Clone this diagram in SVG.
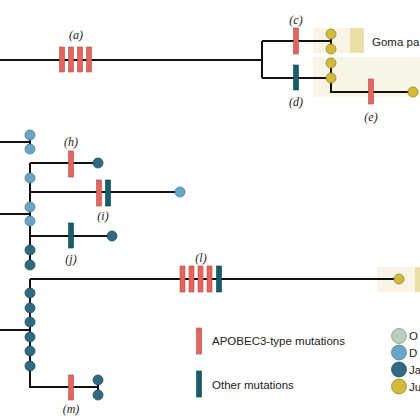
<svg xmlns="http://www.w3.org/2000/svg" width="420" height="420" viewBox="0 0 420 420">
<style>
.ln{stroke:#111;stroke-width:2;fill:none}
.apo{fill:#e8635b;stroke:#a9524d;stroke-width:0.6}
.oth{fill:#165e6c;stroke:#0e3f48;stroke-width:0.6}
.lb{font-family:"Liberation Serif",serif;font-style:italic;font-size:12px;fill:#222;text-anchor:middle}
.tx{font-family:"Liberation Sans",Arial,sans-serif;font-size:11.5px;fill:#222}
.lt{fill:#6aa5c3;stroke:#4a7f98;stroke-width:0.8}
.dk{fill:#2f6982;stroke:#204d60;stroke-width:0.8}
.yl{fill:#d3ba3b;stroke:#97852c;stroke-width:0.8}
.gr{fill:#b6cfbf;stroke:#7f9a8a;stroke-width:0.8}
.bg{fill:#f8f5e7}
.bd{fill:#e9e0a9}
</style>
<g id="backgrounds">
<rect class="bg" x="313" y="28" width="37" height="25"/>
<rect class="bd" x="350" y="28" width="14" height="25"/>
<rect class="bg" x="313" y="57" width="107" height="40"/>
<rect class="bg" x="377" y="267" width="38" height="25"/>
<rect class="bd" x="415" y="267" width="5" height="25"/>
</g>
<g id="connectors">
<path class="ln" d="M0 60H262M262 41V78M262 41H331M262 78H331M331 34V49M331 63V92H413"/>
<path class="ln" d="M0 142H30M30 135V149"/>
<path class="ln" d="M30 163V265M30 163H98M30 192H180M0 214H30M30 236H112"/>
<path class="ln" d="M30 279V387H98M30 279H399M0 330H30M98 380V395"/>
</g>
<g id="mutations">
<g id="mut-a"><rect class="apo" x="59.5" y="47" width="5" height="25"/><rect class="apo" x="68.5" y="47" width="5" height="25"/><rect class="apo" x="77.5" y="47" width="5" height="25"/><rect class="apo" x="86.5" y="47" width="5" height="25"/><text class="lb" x="76" y="39">(a)</text></g>
<g id="mut-c"><rect class="apo" x="293.5" y="28" width="5" height="26"/><text class="lb" x="296" y="24">(c)</text></g>
<g id="mut-d"><rect class="oth" x="293.5" y="65" width="5" height="25"/><text class="lb" x="296" y="106">(d)</text></g>
<g id="mut-e"><rect class="apo" x="368.5" y="79" width="5" height="25"/><text class="lb" x="371" y="121">(e)</text></g>
<g id="mut-h"><rect class="apo" x="68.5" y="151" width="5" height="26"/><text class="lb" x="71" y="146">(h)</text></g>
<g id="mut-i"><rect class="apo" x="96.5" y="180" width="5" height="26"/><rect class="oth" x="105.5" y="180" width="5" height="26"/><text class="lb" x="103" y="220">(i)</text></g>
<g id="mut-j"><rect class="oth" x="68.5" y="223" width="5" height="25"/><text class="lb" x="71" y="263">(j)</text></g>
<g id="mut-l"><rect class="apo" x="180" y="266" width="5" height="26"/><rect class="apo" x="189" y="266" width="5" height="26"/><rect class="apo" x="198" y="266" width="5" height="26"/><rect class="apo" x="207" y="266" width="5" height="26"/><rect class="oth" x="216.5" y="266" width="5" height="26"/><text class="lb" x="201" y="262">(l)</text></g>
<g id="mut-m"><rect class="apo" x="68.5" y="375" width="5" height="25"/><text class="lb" x="71" y="413">(m)</text></g>
</g>
<g id="nodes">
<circle class="yl" cx="331" cy="34" r="5"/><circle class="yl" cx="331" cy="49" r="5"/>
<circle class="yl" cx="331" cy="63" r="5"/><circle class="yl" cx="331" cy="78" r="5"/>
<circle class="yl" cx="413" cy="92" r="5"/>
<circle class="lt" cx="30" cy="135" r="5"/><circle class="lt" cx="30" cy="149" r="5"/>
<circle class="dk" cx="98" cy="163" r="5"/>
<circle class="lt" cx="30" cy="178" r="5"/>
<circle class="lt" cx="180" cy="192" r="5"/>
<circle class="lt" cx="30" cy="207" r="5"/><circle class="lt" cx="30" cy="221" r="5"/>
<circle class="dk" cx="112" cy="236" r="5"/>
<circle class="dk" cx="30" cy="250" r="5"/><circle class="dk" cx="30" cy="265" r="5"/>
<circle class="yl" cx="399" cy="279" r="5"/>
<circle class="dk" cx="30" cy="293" r="5"/><circle class="dk" cx="30" cy="308" r="5"/><circle class="dk" cx="30" cy="322" r="5"/><circle class="dk" cx="30" cy="337" r="5"/><circle class="dk" cx="30" cy="351" r="5"/><circle class="dk" cx="30" cy="366" r="5"/>
<circle class="dk" cx="98" cy="380" r="5"/><circle class="dk" cx="98" cy="395" r="5"/>
</g>
<text class="tx" x="372" y="46">Goma pa</text>
<g id="legend">
<rect class="apo" x="196.5" y="328" width="5" height="26"/>
<text class="tx" x="212" y="345">APOBEC3-type mutations</text>
<rect class="oth" x="196.5" y="371" width="5" height="26"/>
<text class="tx" x="212" y="389">Other mutations</text>
<circle class="gr" cx="399" cy="336" r="7.5"/><text class="tx" x="409" y="340">O</text>
<circle class="lt" cx="399" cy="352.5" r="7.5"/><text class="tx" x="409" y="357">D</text>
<circle class="dk" cx="399" cy="369.5" r="7.5"/><text class="tx" x="409" y="374">Ja</text>
<circle class="yl" cx="399" cy="386.5" r="7.5"/><text class="tx" x="409" y="391">Ju</text>
</g>
</svg>
